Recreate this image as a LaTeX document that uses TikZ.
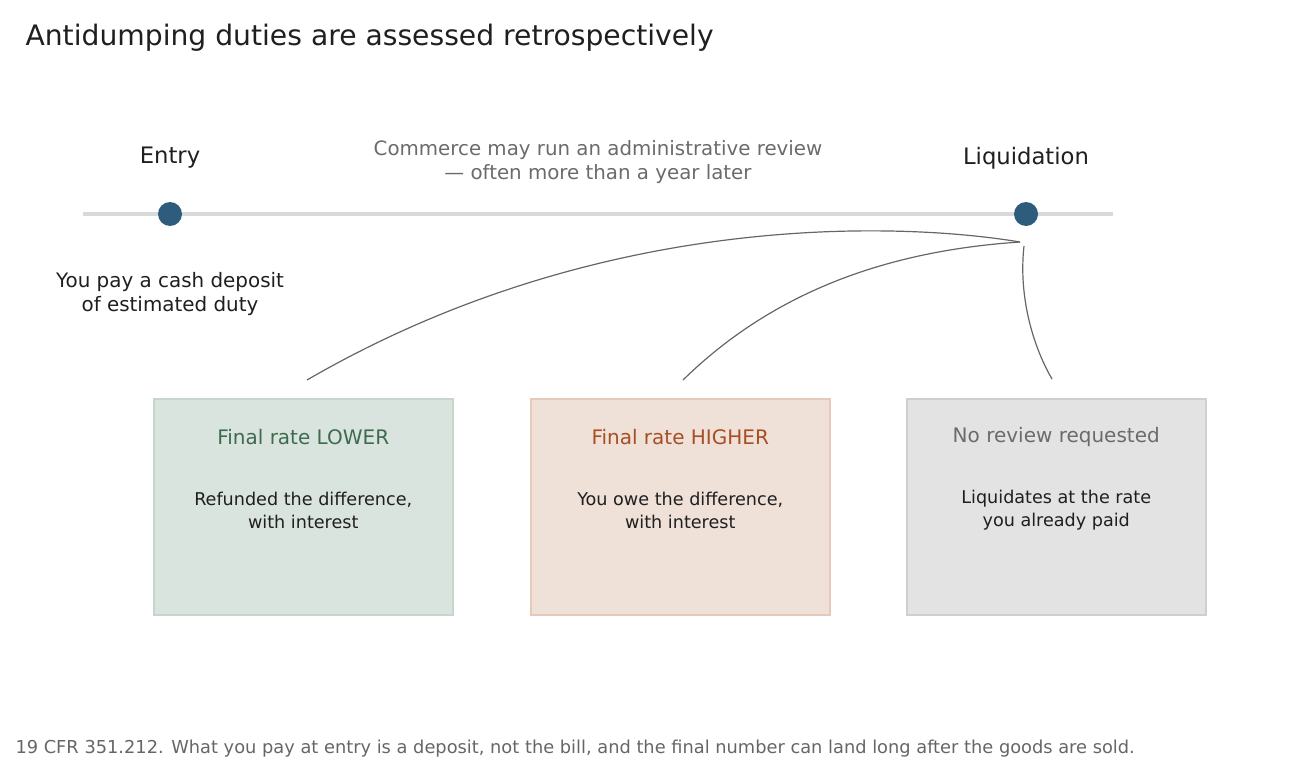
\documentclass[tikz,border=0pt]{standalone}
\usepackage{fontspec}
\setmainfont{DejaVu Sans}
\begin{document}
\begin{tikzpicture}[x=1pt,y=-1pt,
  box/.style={draw,line width=1.5pt,minimum width=299pt,minimum height=216pt,anchor=north west},
  conn/.style={draw=black!60,line width=1.2pt},
  dot/.style={circle,fill=dotc,minimum size=24pt,inner sep=0pt},
  lab/.style={align=center,font=\fontsize{17.6}{23}\selectfont}]
\definecolor{dotc}{HTML}{2D5C7C}
\definecolor{gfill}{HTML}{DAE4DE}\definecolor{gline}{HTML}{C5D6CB}\definecolor{gtext}{HTML}{3E6B50}
\definecolor{ofill}{HTML}{EFE0D8}\definecolor{oline}{HTML}{E6C9BA}\definecolor{otext}{HTML}{A64F26}
\definecolor{yfill}{HTML}{E3E3E3}\definecolor{yline}{HTML}{CFCFCF}\definecolor{ytext}{HTML}{6B6B6B}
\useasboundingbox (0,0) rectangle (1290,765);
\node[anchor=west,font=\fontsize{28.2}{32}\selectfont,text=black!88] (title) at (22,38) {Antidumping duties are assessed retrospectively};
\coordinate (l0) at (83,214); \coordinate (l1) at (1113,214);
\draw[line width=4pt,color=black!15] (l0) -- (l1);
\node[dot] (entry) at (170,214) {};
\node[dot] (liq) at (1026,214) {};
\node[font=\fontsize{22.7}{26}\selectfont,text=black!88] (entl) at (170,158) {Entry};
\node[font=\fontsize{22.7}{26}\selectfont,text=black!88] (liql) at (1026,158) {Liquidation};
\node[align=center,font=\fontsize{19.8}{24}\selectfont,text=ytext] (rev) at (598,162) {Commerce may run an administrative review\\— often more than a year later};
\node[align=center,font=\fontsize{19.9}{24}\selectfont,text=black!88] (dep) at (170,294) {You pay a cash deposit\\of estimated duty};
\node[box,draw=gline,fill=gfill] (b1) at (153,398) {};
\node[box,draw=oline,fill=ofill] (b2) at (530,398) {};
\node[box,draw=yline,fill=yfill] (b3) at (906,398) {};
\foreach \b/\c/\t/\s in {b1/gtext/Final rate LOWER/{Refunded the difference,\\with interest},
  b2/otext/Final rate HIGHER/{You owe the difference,\\with interest},
  b3/ytext/No review requested/{Liquidates at the rate\\you already paid}}{
  \node[font=\fontsize{20}{24}\selectfont,text=\c] (\b t) at ([yshift=-39]\b.north) {\t};
  \node[lab,text=black!88] (\b s) at ([yshift=-112]\b.north) {\s};
}
\coordinate (s1) at (1020,242); \coordinate (s3) at (1024,246);
\coordinate (e1) at (307,380); \coordinate (e2) at (683,380); \coordinate (e3) at (1052,379);
\draw[conn] (s1) .. controls (900,222) and (600,210) .. (e1);
\draw[conn] (s1) .. controls (900,250) and (780,285) .. (e2);
\draw[conn] (s3) .. controls (1018,300) and (1035,350) .. (e3);
\node[anchor=west,font=\fontsize{17.8}{20}\selectfont,text=black!60] (foot) at (12,749) {19 CFR 351.212. What you pay at entry is a deposit, not the bill, and the final number can land long after the goods are sold.};
\end{tikzpicture}
\end{document}
